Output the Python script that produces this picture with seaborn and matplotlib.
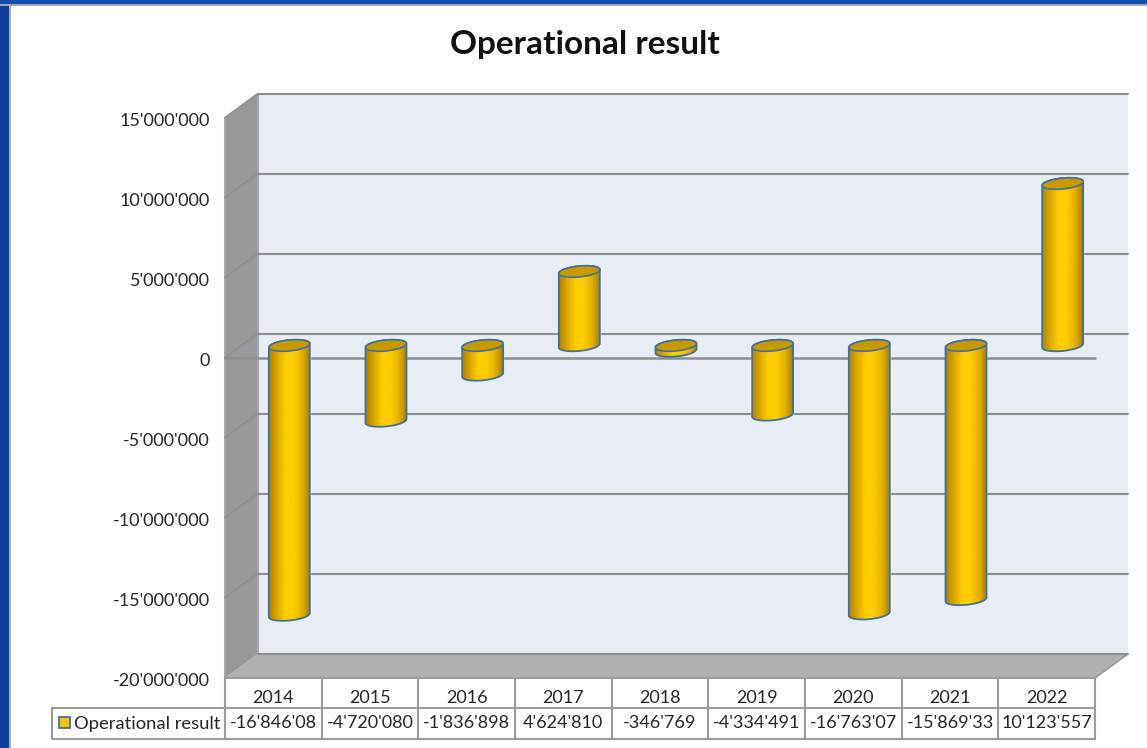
import numpy as np
import pandas as pd
import seaborn as sns
import matplotlib
matplotlib.use("Agg")
import matplotlib.pyplot as plt
import matplotlib.transforms as mtransforms
from matplotlib.colors import LinearSegmentedColormap
from matplotlib.patches import Polygon, Rectangle

# data
years = ["2014", "2015", "2016", "2017", "2018", "2019", "2020", "2021", "2022"]
values = [-16846080, -4720080, -1836898, 4624810, -346769, -4334491, -16763070, -15869330, 10123557]
# the table cells are cut off in the original, kept as they show
table_labels = ["-16'846'08", "-4'720'080", "-1'836'898", "4'624'810", "-346'769",
                "-4'334'491", "-16'763'07", "-15'869'33", "10'123'557"]
y_ticks = [-20000000, -15000000, -10000000, -5000000, 0, 5000000, 10000000, 15000000]
series_name = "Operational result"

df = pd.DataFrame({"year": years, "value": values})

sns.set_theme(style="white")
plt.rcParams["font.family"] = ["Lato", "DejaVu Sans"]
TEXT = "#262626"
GRID = "#8E8E8E"
TABLE = "#9C9C9C"

W, H = 1147, 748
fig = plt.figure(figsize=(W / 100, H / 100), dpi=100, facecolor="white")

# background layer in pixels: window frame, walls, floor, table
bg = fig.add_axes([0, 0, 1, 1], zorder=0)
bg.set_xlim(0, W)
bg.set_ylim(H, 0)
bg.axis("off")

bg.add_patch(Rectangle((0, 0), 9, H, color="#0B3F9E", lw=0))
bg.add_patch(Rectangle((9, 0), 2, H, color="#A9AEB8", lw=0))
bg.add_patch(Rectangle((0, 0), W, 4, color="#0F4BAE", lw=0))
bg.add_patch(Rectangle((0, 4), W, 1.5, color="#A5A5A5", lw=0))

bg.add_patch(Polygon([(258, 94), (1128, 94), (1128, 654), (258, 654)], color="#E8ECF5", lw=0))
bg.add_patch(Polygon([(225, 118), (258, 94), (258, 654), (225, 678)], color="#97989C", lw=0))
bg.add_patch(Polygon([(225, 678), (258, 654), (1128, 654), (1095, 678)], color="#AEB0B4", lw=0))
bg.plot([258, 258], [94, 654], color="#A6A6A6", lw=1.5)
bg.plot([225, 225], [118, 678], color="#A6A6A6", lw=1.5)

# main axes sits on the front plane of the fake 3d box
ax = fig.add_axes([225 / W, 1 - 677.5 / H, 870 / W, 560 / H], zorder=2)
ax.patch.set_alpha(0)

sns.barplot(data=df, x="year", y="value", color="#FFC000", saturation=1, width=0.424, ax=ax)
ax.set_xlim(-0.5, 8.5)
ax.set_ylim(-20000000, 15000000)
ax.set(xlabel="", ylabel="")
sns.despine(ax=ax, left=True, bottom=True)

# depth offsets, bars stand halfway into the box
bar_shift = mtransforms.ScaledTranslation(16 / 100, 12 / 100, fig.dpi_scale_trans)
wall_shift = mtransforms.ScaledTranslation(33 / 100, 24 / 100, fig.dpi_scale_trans)
bar_trans = ax.transData + bar_shift
wall_trans = ax.transData + wall_shift

# gridlines on the back wall and the slanted bits on the left wall
for tick in y_ticks:
    ax.plot([-0.5, 8.5], [tick, tick], color=GRID, lw=1.5, transform=wall_trans, clip_on=False, zorder=1)
    py = H - ax.transData.transform((0, tick))[1]
    if tick > -20000000:
        bg.plot([225, 258], [py, py - 24], color=GRID, lw=1.2)
ax.plot([-0.5, 8.5], [0, 0], color=GRID, lw=1.8, clip_on=False, zorder=1.5)

# cylinders: gradient body with elliptical caps on top of the seaborn bars
shade = LinearSegmentedColormap.from_list(
    "cyl", ["#B08200", "#DDAA00", "#FFCC00", "#FFCC00", "#E6B400", "#A87E00"])
ramp = np.linspace(0, 1, 128)[None, :]
rim = "#41709C"
cap_b = 340000
cap_s = 120000
t_low = np.linspace(np.pi, 2 * np.pi, 40)
t_high = np.linspace(0, np.pi, 40)
t_full = np.linspace(0, 2 * np.pi, 80)

for bar in list(ax.patches):
    bar.set_transform(bar_trans)
    bar.set_clip_on(False)
    bar.set_zorder(2)
    x0, w = bar.get_x(), bar.get_width()
    y0, h = bar.get_y(), bar.get_height()
    top, bot = max(y0, y0 + h), min(y0, y0 + h)
    cx = x0 + w / 2

    def ring(cy, t):
        return np.column_stack([cx + w / 2 * np.cos(t), cy + cap_b * np.sin(t) + cap_s * np.cos(t)])

    outline = np.vstack([ring(bot, t_low), ring(top, t_high)])
    body = Polygon(outline, closed=True, facecolor="none", edgecolor=rim, lw=1.3,
                   transform=bar_trans, clip_on=False, zorder=4)
    ax.add_patch(body)
    im = ax.imshow(ramp, cmap=shade, aspect="auto", zorder=3,
                   extent=(x0, x0 + w, bot - 500000, top + 500000))
    im.set_transform(bar_trans)
    im.set_clip_path(body)
    ax.add_patch(Polygon(ring(top, t_full), closed=True, facecolor="#C99A00", edgecolor=rim, lw=1.2,
                         transform=bar_trans, clip_on=False, zorder=5))

ax.set_xlim(-0.5, 8.5)
ax.set_ylim(-20000000, 15000000)

# axis labels
ax.set_yticks(y_ticks)
ax.set_yticklabels([f"{v:,}".replace(",", "'") for v in y_ticks], fontsize=13, color=TEXT)
ax.set_xticks(range(len(years)))
ax.set_xticklabels(years, fontsize=13, color=TEXT)
ax.tick_params(axis="y", length=0, pad=11)
ax.tick_params(axis="x", length=0, pad=9)
ax.grid(False)
down = mtransforms.ScaledTranslation(0, -2 / 100, fig.dpi_scale_trans)
for lab in ax.get_yticklabels():
    lab.set_transform(lab.get_transform() + down)

# data table below the axes
for i, lab in enumerate(table_labels):
    ax.annotate(lab, xy=(i, 0), xycoords=ax.get_xaxis_transform(), xytext=(0, -46 * 0.72),
                textcoords="offset points", ha="center", va="center", fontsize=13, color=TEXT)

edges = np.linspace(225, 1095, len(years) + 1)
for ex in edges:
    bg.plot([ex, ex], [678, 739], color=TABLE, lw=1.5)
bg.plot([225, 1095], [678, 678], color=TABLE, lw=1.5)
bg.plot([52, 1095], [708, 708], color=TABLE, lw=1.5)
bg.plot([52, 1095], [739, 739], color=TABLE, lw=1.5)
bg.plot([52, 52], [708, 739], color=TABLE, lw=1.5)
bg.plot([1095, 1128], [678, 654], color=TABLE, lw=1.2)
bg.add_patch(Rectangle((59, 717), 11, 11, facecolor="#FFC000", edgecolor=rim, lw=1.3))
bg.text(74, 723.5, series_name, ha="left", va="center", fontsize=13.2, color=TEXT)

bg.text(585, 44, series_name, ha="center", va="center", fontsize=24, fontweight="bold", color="#111111")

fig.savefig("out.png", dpi=100)
